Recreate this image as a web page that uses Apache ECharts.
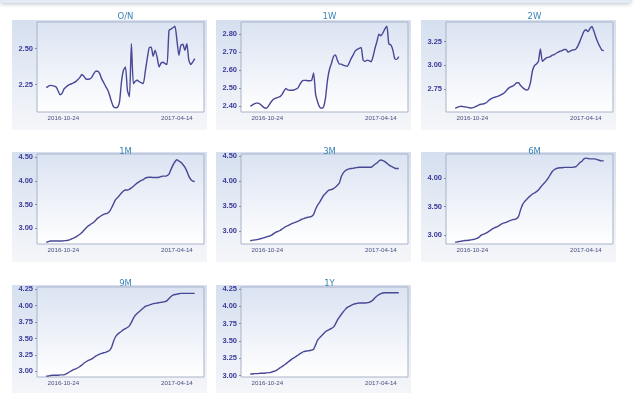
<!DOCTYPE html>
<html>
<head>
<meta charset="utf-8">
<script src="https://cdn.jsdelivr.net/npm/echarts@6/dist/echarts.min.js"></script>
<style>
html,body{margin:0;padding:0;background:#ffffff;}
#chart{width:638px;height:393px;}
</style>
</head>
<body>
<div id="chart"></div>
<script>
// ---- data ----
const dates = [
'2016-09-28','2016-10-01','2016-10-04','2016-10-07','2016-10-10','2016-10-13','2016-10-16','2016-10-19','2016-10-22','2016-10-25',
'2016-10-28','2016-10-31','2016-11-03','2016-11-06','2016-11-09','2016-11-12','2016-11-15','2016-11-18','2016-11-21','2016-11-24',
'2016-11-27','2016-11-30','2016-12-03','2016-12-06','2016-12-09','2016-12-12','2016-12-15','2016-12-18','2016-12-21','2016-12-24',
'2016-12-27','2016-12-30','2017-01-02','2017-01-05','2017-01-08','2017-01-11','2017-01-14','2017-01-17','2017-01-20','2017-01-23',
'2017-01-26','2017-01-29','2017-02-01','2017-02-04','2017-02-07','2017-02-10','2017-02-13','2017-02-16','2017-02-19','2017-02-22',
'2017-02-25','2017-02-28','2017-03-03','2017-03-06','2017-03-09','2017-03-12','2017-03-15','2017-03-18','2017-03-21','2017-03-24',
'2017-03-27','2017-03-30','2017-04-02','2017-04-05','2017-04-08','2017-04-11','2017-04-14','2017-04-17','2017-04-20','2017-04-23',
'2017-04-26','2017-04-29','2017-05-02','2017-05-05','2017-05-08','2017-05-11'
];
const xTickLabels = ['2016-10-24', '2017-04-14'];

const panelNames = ['O/N', '1W', '2W', '1M', '3M', '6M', '9M', '1Y'];

const onValues = [2.229,2.238,2.245,2.243,2.24,2.234,2.206,2.18,2.19,2.22,
2.234,2.245,2.252,2.257,2.264,2.273,2.285,2.30,2.32,2.308,
2.29,2.287,2.29,2.30,2.326,2.343,2.343,2.326,2.29,2.264,
2.238,2.215,2.176,2.13,2.095,2.09,2.093,2.13,2.27,2.35,
2.373,2.21,2.165,2.535,2.257,2.273,2.28,2.27,2.264,2.257,
2.34,2.43,2.507,2.51,2.447,2.49,2.44,2.373,2.40,2.405,
2.396,2.39,2.627,2.636,2.645,2.655,2.558,2.454,2.523,2.53,
2.488,2.535,2.42,2.39,2.407,2.43];

const w1Values = [2.40,2.406,2.413,2.417,2.417,2.411,2.402,2.392,2.389,2.398,
2.415,2.43,2.44,2.445,2.449,2.453,2.464,2.483,2.498,2.49,
2.488,2.488,2.49,2.494,2.50,2.52,2.537,2.543,2.543,2.541,
2.541,2.543,2.584,2.467,2.425,2.396,2.389,2.396,2.445,2.543,
2.603,2.637,2.674,2.684,2.655,2.633,2.633,2.627,2.623,2.621,
2.64,2.665,2.684,2.706,2.715,2.72,2.725,2.655,2.648,2.655,
2.652,2.646,2.674,2.721,2.759,2.798,2.79,2.806,2.828,2.843,
2.744,2.74,2.712,2.663,2.659,2.674];

const w2Values = [2.544,2.555,2.562,2.566,2.562,2.559,2.555,2.551,2.548,2.551,
2.559,2.569,2.58,2.587,2.59,2.597,2.608,2.63,2.644,2.654,
2.661,2.668,2.675,2.686,2.697,2.711,2.736,2.757,2.771,2.778,
2.793,2.814,2.814,2.785,2.764,2.746,2.736,2.75,2.817,2.941,
2.995,3.012,3.04,3.172,3.04,3.059,3.076,3.083,3.09,3.105,
3.112,3.126,3.137,3.147,3.154,3.165,3.165,3.137,3.147,3.158,
3.161,3.172,3.207,3.254,3.307,3.356,3.374,3.356,3.385,3.41,
3.36,3.296,3.243,3.197,3.161,3.154];

const m1Values = [2.70,2.717,2.73,2.73,2.73,2.73,2.73,2.73,2.73,2.738,
2.738,2.745,2.76,2.78,2.795,2.816,2.844,2.872,2.908,2.957,
3.0,3.042,3.07,3.10,3.127,3.17,3.212,3.24,3.268,3.29,
3.304,3.318,3.353,3.43,3.516,3.60,3.644,3.693,3.743,3.785,
3.806,3.806,3.82,3.849,3.884,3.92,3.955,3.983,4.005,4.026,
4.054,4.068,4.075,4.075,4.068,4.068,4.068,4.075,4.09,4.097,
4.097,4.11,4.14,4.24,4.33,4.40,4.443,4.415,4.387,4.344,
4.288,4.203,4.097,4.026,3.99,3.983];

const m3Values = [2.801,2.808,2.815,2.821,2.828,2.841,2.848,2.861,2.874,2.887,
2.90,2.92,2.947,2.973,2.987,3.006,3.033,3.059,3.086,3.105,
3.125,3.145,3.158,3.172,3.191,3.211,3.231,3.244,3.258,3.271,
3.277,3.29,3.33,3.43,3.515,3.568,3.64,3.707,3.747,3.793,
3.82,3.826,3.846,3.872,3.912,3.958,4.09,4.163,4.203,4.229,
4.242,4.249,4.255,4.262,4.269,4.275,4.275,4.275,4.275,4.275,
4.275,4.275,4.30,4.335,4.36,4.40,4.42,4.407,4.387,4.355,
4.322,4.295,4.275,4.255,4.249,4.249];

const m6Values = [2.873,2.88,2.886,2.892,2.898,2.904,2.904,2.91,2.916,2.922,
2.928,2.94,2.964,2.994,3.012,3.024,3.042,3.066,3.09,3.114,
3.132,3.145,3.163,3.187,3.205,3.217,3.229,3.247,3.259,3.271,
3.277,3.289,3.331,3.446,3.536,3.59,3.627,3.663,3.693,3.723,
3.741,3.765,3.795,3.837,3.88,3.916,3.958,4.006,4.066,4.12,
4.15,4.169,4.181,4.187,4.187,4.193,4.193,4.193,4.193,4.193,
4.199,4.205,4.241,4.277,4.301,4.343,4.355,4.349,4.343,4.343,
4.343,4.337,4.325,4.313,4.307,4.307];

const m9Values = [2.922,2.927,2.932,2.938,2.938,2.938,2.938,2.943,2.943,2.943,
2.958,2.974,2.995,3.01,3.026,3.036,3.052,3.073,3.094,3.12,
3.141,3.161,3.172,3.187,3.208,3.229,3.245,3.26,3.271,3.281,
3.286,3.302,3.318,3.365,3.458,3.526,3.563,3.589,3.609,3.635,
3.651,3.667,3.693,3.745,3.807,3.854,3.885,3.911,3.937,3.964,
3.99,4.0,4.01,4.021,4.031,4.036,4.042,4.047,4.052,4.057,
4.062,4.078,4.109,4.141,4.161,4.172,4.177,4.182,4.188,4.188,
4.188,4.188,4.188,4.188,4.188,4.188];

const y1Values = [3.024,3.024,3.029,3.029,3.029,3.034,3.034,3.034,3.039,3.043,
3.043,3.053,3.063,3.072,3.092,3.111,3.13,3.15,3.169,3.193,
3.217,3.237,3.256,3.275,3.294,3.314,3.333,3.347,3.352,3.357,
3.362,3.367,3.381,3.444,3.512,3.545,3.574,3.603,3.632,3.652,
3.666,3.681,3.70,3.743,3.801,3.845,3.883,3.922,3.956,3.985,
3.999,4.014,4.028,4.038,4.042,4.047,4.047,4.047,4.047,4.052,
4.057,4.071,4.091,4.125,4.149,4.168,4.182,4.192,4.197,4.197,
4.197,4.197,4.197,4.197,4.197,4.197];

const allValues = [onValues, w1Values, w2Values, m1Values, m3Values, m6Values, m9Values, y1Values];

// y tick labels per panel
const onTicks = [2.25, 2.50];
const w1Ticks = [2.40, 2.50, 2.60, 2.70, 2.80];
const w2Ticks = [2.75, 3.00, 3.25];
const m1Ticks = [3.00, 3.50, 4.00, 4.50];
const m3Ticks = [3.00, 3.50, 4.00, 4.50];
const m6Ticks = [3.00, 3.50, 4.00];
const m9Ticks = [3.00, 3.25, 3.50, 3.75, 4.00, 4.25];
const y1Ticks = [3.00, 3.25, 3.50, 3.75, 4.00, 4.25];
const allTicks = [onTicks, w1Ticks, w2Ticks, m1Ticks, m3Ticks, m6Ticks, m9Ticks, y1Ticks];

// ---- layout / style ----
const yMin = [2.06, 2.368, 2.505, 2.667, 2.735, 2.843, 2.911, 2.98];
const yMax = [2.685, 2.866, 3.456, 4.564, 4.54, 4.428, 4.286, 4.279];
const colLeft = [37, 241, 446];
const rowTop = [22, 154, 287];
const titleCenterY = [13, 148, 280];
const plotW = 167, plotH = 90;

function toT(s) {
  const p = s.split('-');
  return Date.UTC(+p[0], +p[1] - 1, +p[2]);
}
const xMinT = toT('2016-09-14');
const xMaxT = toT('2017-05-25');
const xTickT = xTickLabels.map(toT);
const dateT = dates.map(toT);

const chart = echarts.init(document.getElementById('chart'));

const grids = [], xAxes = [], yAxes = [], series = [], titles = [], graphics = [];

graphics.push({
  type: 'rect', z: -10,
  shape: { x: 0, y: -6, width: 631, height: 9, r: 3 },
  style: { fill: '#e3ebf5', shadowBlur: 4, shadowColor: 'rgba(60,80,110,0.35)', shadowOffsetY: 1 }
});

for (let i = 0; i < 8; i++) {
  const col = i % 3, row = Math.floor(i / 3);
  const left = colLeft[col], top = rowTop[row];
  graphics.push({
    type: 'rect', z: -5,
    shape: { x: left - 25, y: top - 2, width: 195, height: 110 },
    style: {
      fill: new echarts.graphic.LinearGradient(0, 0, 0, 1, [
        { offset: 0, color: '#d5dfef' },
        { offset: 0.6, color: '#e9eef6' },
        { offset: 1, color: '#f5f6f9' }
      ])
    }
  });
  grids.push({
    left: left, top: top, width: plotW, height: plotH,
    show: true, borderColor: '#a9b3c7', borderWidth: 1,
    backgroundColor: new echarts.graphic.LinearGradient(0, 0, 0, 1, [
      { offset: 0, color: '#dbe3f2' },
      { offset: 1, color: '#ffffff' }
    ])
  });
  titles.push({
    text: panelNames[i],
    left: left + plotW / 2,
    top: titleCenterY[row] - 6,
    textAlign: 'center',
    textStyle: { fontFamily: 'DejaVu Sans', fontSize: 8.5, fontWeight: 'normal', color: '#3a84b4' }
  });
  xAxes.push({
    type: 'value', gridIndex: i, min: xMinT, max: xMaxT,
    axisLine: { show: false },
    axisTick: { show: false },
    splitLine: { show: false },
    axisLabel: {
      customValues: xTickT,
      margin: 3,
      fontFamily: 'Liberation Sans', fontSize: 6.2, color: '#4a4f80',
      formatter: function (v) {
        const k = xTickT.indexOf(v);
        return k >= 0 ? xTickLabels[k] : '';
      }
    }
  });
  const ticks = allTicks[i];
  yAxes.push({
    type: 'value', gridIndex: i, min: yMin[i], max: yMax[i],
    axisLine: { show: false },
    axisTick: { show: true, customValues: ticks, length: 2, lineStyle: { color: '#8890a8' } },
    splitLine: { show: false },
    axisLabel: {
      customValues: ticks,
      margin: 4,
      fontFamily: 'Liberation Sans', fontSize: 7.5, fontWeight: 'bold', color: '#3a3a9c',
      formatter: v => v.toFixed(2)
    }
  });
  const vals = allValues[i];
  series.push({
    type: 'line', xAxisIndex: i, yAxisIndex: i,
    data: dateT.map((t, k) => [t, vals[k]]),
    showSymbol: false, smooth: 0.2, silent: true,
    lineStyle: { color: '#484896', width: 1.4 }
  });
}

chart.setOption({
  animation: false,
  backgroundColor: '#ffffff',
  title: titles,
  grid: grids,
  xAxis: xAxes,
  yAxis: yAxes,
  series: series,
  graphic: graphics
});
</script>
</body>
</html>
